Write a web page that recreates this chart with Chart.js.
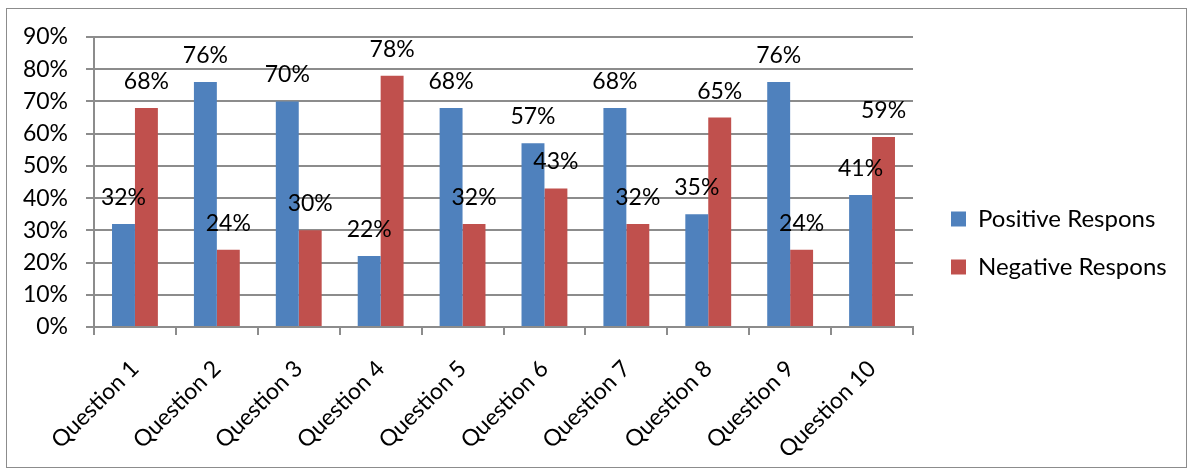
<!DOCTYPE html>
<html>
<head>
<meta charset="utf-8">
<script src="https://cdn.jsdelivr.net/npm/chart.js@4"></script>
<style>
  html, body { margin: 0; padding: 0; background: #fff; }
  #frame {
    position: absolute; left: 6px; top: 8px;
    width: 1179px; height: 458px;
    border: 1px solid #8c8c8c;
  }
  #frame canvas { display: block; }
</style>
</head>
<body>
<div id="frame"><canvas id="chart" width="1179" height="458"></canvas></div>
<script>
const categories = ['Question 1', 'Question 2', 'Question 3', 'Question 4', 'Question 5',
    'Question 6', 'Question 7', 'Question 8', 'Question 9', 'Question 10'];
const positive = [32, 76, 70, 22, 68, 57, 68, 35, 76, 41];
const negative = [68, 24, 30, 78, 32, 43, 32, 65, 24, 59];
const seriesNames = ['Positive Respons', 'Negative Respons'];
const yTicks = [0, 10, 20, 30, 40, 50, 60, 70, 80, 90];

const FONT = 'Lato, "Open Sans", sans-serif';
const GRID = '#8c8c8c';

// value labels above each bar
const barLabels = {
    id: 'barLabels',
    afterDatasetsDraw(chart) {
        const ctx = chart.ctx;
        ctx.save();
        ctx.font = '23px ' + FONT;
        ctx.fillStyle = '#000';
        ctx.textAlign = 'center';
        ctx.textBaseline = 'alphabetic';
        chart.data.datasets.forEach((ds, i) => {
            chart.getDatasetMeta(i).data.forEach((bar, j) => {
                ctx.fillText(ds.data[j] + '%', bar.x, bar.y - 19);
            });
        });
        ctx.restore();
    }
};

// fixed legend column width, items nudged into place
const legendBox = {
    id: 'legendBox',
    beforeLayout(chart) {
        const lg = chart.legend;
        if (lg && !lg._wrapped) {
            const fit = lg.fit;
            lg.fit = function () {
                fit.call(this);
                this.width = 273;
            };
            lg._wrapped = true;
        }
    },
    afterLayout(chart) {
        const lg = chart.legend;
        lg.left += 14;
        lg.right += 14;
        lg.top -= 9;
        lg.bottom -= 9;
    }
};

new Chart(document.getElementById('chart'), {
    type: 'bar',
    data: {
        labels: categories,
        datasets: [
            { label: seriesNames[0], data: positive, backgroundColor: '#4f81bd' },
            { label: seriesNames[1], data: negative, backgroundColor: '#c0504d' }
        ]
    },
    options: {
        responsive: false,
        animation: false,
        layout: { padding: { top: 28, right: 0, bottom: 0, left: 0 } },
        datasets: {
            bar: { categoryPercentage: 0.56, barPercentage: 1, borderWidth: 0 }
        },
        plugins: {
            tooltip: { enabled: false },
            legend: {
                position: 'right',
                labels: {
                    boxWidth: 15, boxHeight: 15, padding: 24,
                    color: '#000',
                    font: { family: FONT, size: 24 }
                }
            }
        },
        scales: {
            x: {
                grid: {
                    offset: true, drawOnChartArea: false, drawTicks: true,
                    tickLength: 8, color: GRID, lineWidth: 2
                },
                border: { color: GRID, width: 2 },
                ticks: {
                    autoSkip: false, maxRotation: 45, minRotation: 45,
                    padding: 20, color: '#000',
                    font: { family: FONT, size: 23 }
                },
                afterFit(scale) { scale.height = 140; }
            },
            y: {
                min: 0, max: 90,
                grid: { color: GRID, lineWidth: 2, tickLength: 8 },
                border: { color: GRID, width: 2 },
                afterBuildTicks(scale) { scale.ticks = yTicks.map(v => ({ value: v })); },
                ticks: {
                    padding: 18, color: '#000',
                    font: { family: FONT, size: 23 },
                    callback: v => v + '%'
                },
                afterFit(scale) {
                    scale.width = 87;
                    scale.paddingTop = 0;
                    scale.paddingBottom = 0;
                }
            }
        }
    },
    plugins: [barLabels, legendBox]
});
</script>
</body>
</html>
